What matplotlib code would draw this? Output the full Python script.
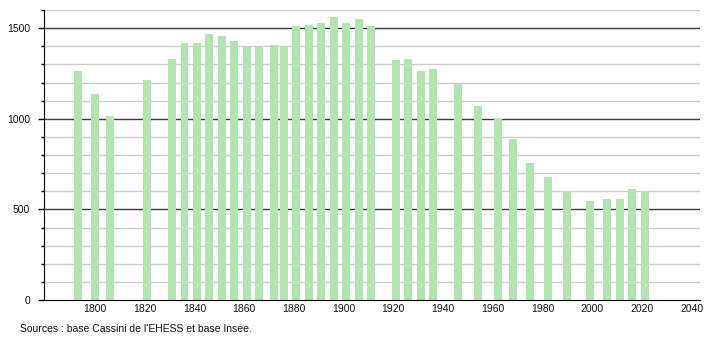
import matplotlib
matplotlib.use("Agg")
import matplotlib.pyplot as plt
from matplotlib.ticker import MultipleLocator

years = [1793, 1800, 1806, 1821, 1831, 1836, 1841, 1846, 1851, 1856, 1861, 1866,
         1872, 1876, 1881, 1886, 1891, 1896, 1901, 1906, 1911, 1921, 1926, 1931,
         1936, 1946, 1954, 1962, 1968, 1975, 1982, 1990, 1999, 2006, 2011, 2016, 2021]
population = [1263, 1134, 1013, 1214, 1332, 1418, 1418, 1466, 1455, 1428, 1398, 1398,
              1406, 1398, 1511, 1516, 1529, 1561, 1531, 1553, 1509, 1323, 1332, 1266,
              1273, 1192, 1068, 1000, 891, 757, 681, 603, 548, 555, 559, 613, 603]
x_ticks = list(range(1800, 2041, 20))
y_ticks = [0, 500, 1000, 1500]
source = "Sources : base Cassini de l'EHESS et base Insee."

plt.rcParams['font.family'] = ['Liberation Sans', 'DejaVu Sans']

fig = plt.figure(figsize=(7.1, 3.4), dpi=100)
ax = fig.add_axes([44 / 710, 40 / 340, 656 / 710, 290 / 340])

# grid: light every 100, dark every 500
for v in range(100, 1601, 100):
    if v % 500 == 0:
        ax.axhline(v, color='#3a3a3a', lw=1.0, zorder=1)
    else:
        ax.axhline(v, color='#cccccc', lw=1.0, zorder=1)

ax.bar(years, population, width=3.2, color='#b1e4b1', zorder=2)

ax.set_xlim(1779.5, 2043.3)
ax.set_ylim(0, 1600)
ax.set_xticks(x_ticks)
ax.set_yticks(y_ticks)
ax.yaxis.set_minor_locator(MultipleLocator(100))

ax.spines['top'].set_visible(False)
ax.spines['right'].set_visible(False)
ax.spines['left'].set_color('black')
ax.spines['bottom'].set_color('black')
ax.tick_params(axis='x', length=0, pad=3, labelsize=7.5, labelcolor='#111111')
ax.tick_params(axis='y', which='major', length=4, width=1, pad=6, labelsize=7.5, labelcolor='#111111')
ax.tick_params(axis='y', which='minor', length=2.5, width=1)

fig.text(20 / 710, 1 - 329 / 340, source, fontsize=7.5, color='#111111', va='center', ha='left')

fig.savefig('out.png', dpi=100)
